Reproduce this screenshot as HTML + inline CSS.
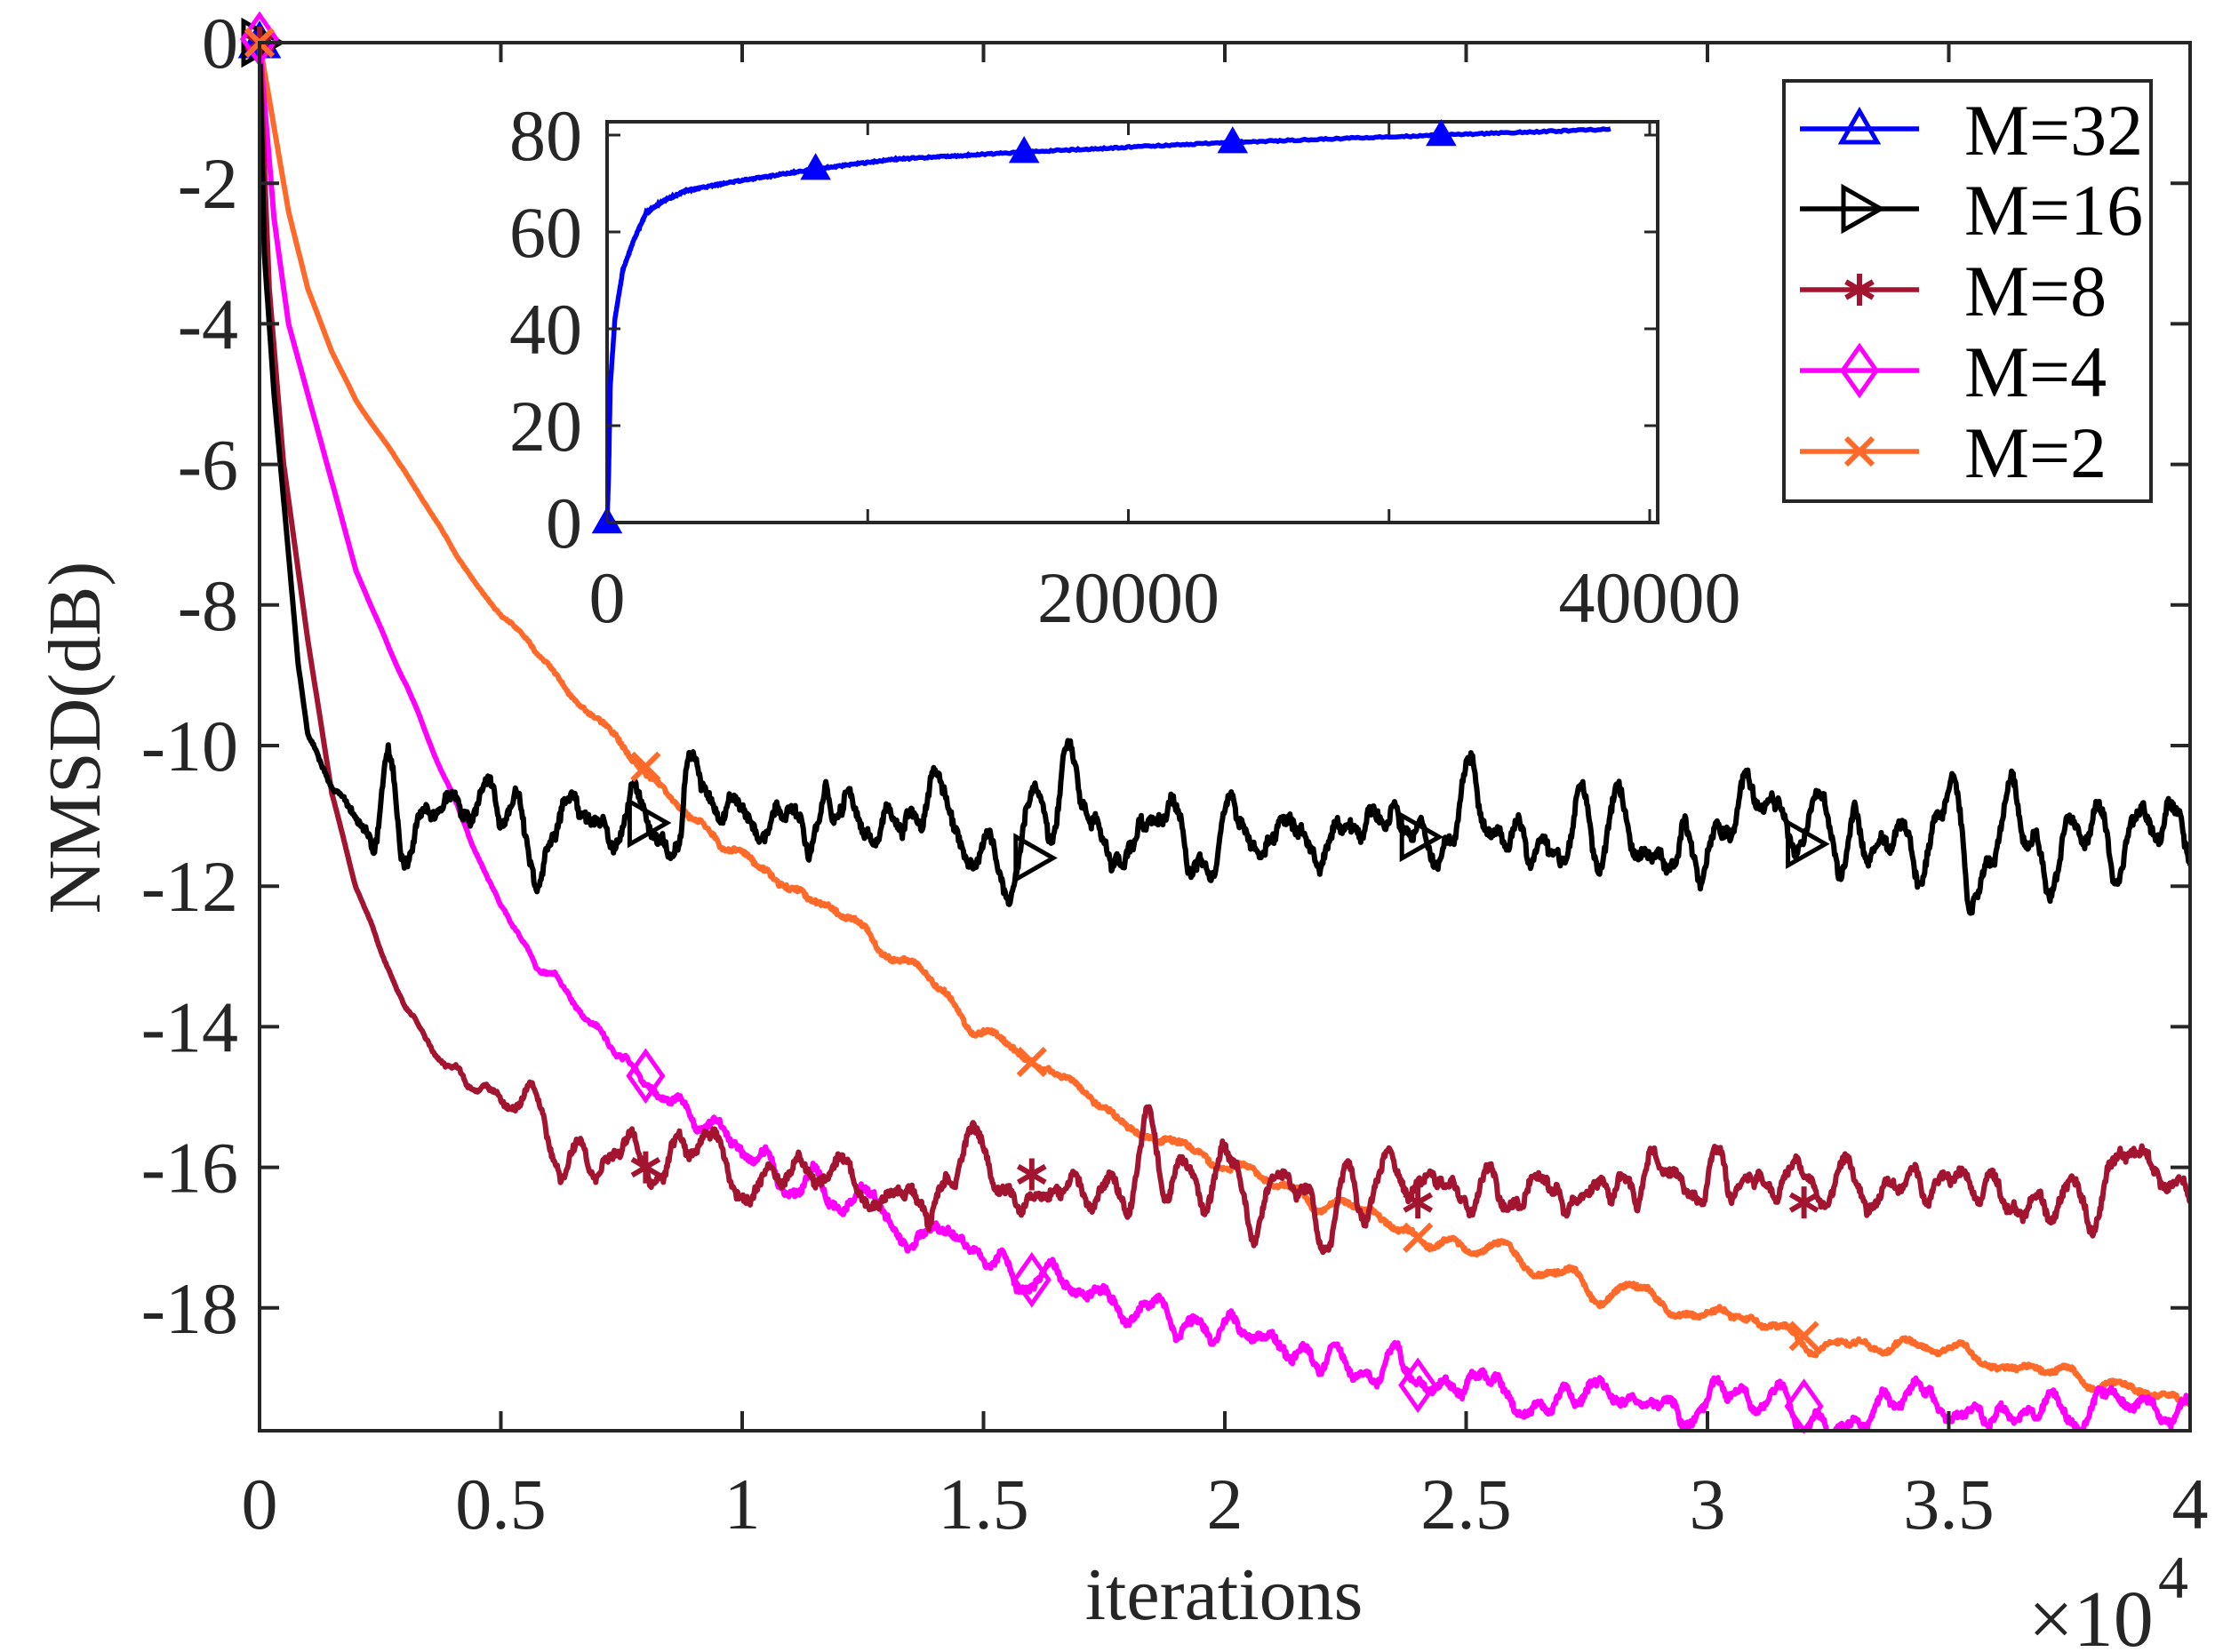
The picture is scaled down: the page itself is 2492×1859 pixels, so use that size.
<!DOCTYPE html>
<html><head><meta charset="utf-8">
<style>
html,body{margin:0;padding:0;background:#fff;}
svg{display:block;}
text{font-family:"Liberation Serif",serif;fill:#262626;}
</style></head>
<body>
<svg id="s" width="2492" height="1859" viewBox="0 0 2492 1859" xmlns="http://www.w3.org/2000/svg">
<defs>
<clipPath id="cp"><rect x="292" y="40" width="2172" height="1570"/></clipPath>
<clipPath id="cpi"><rect x="683" y="137" width="1182" height="451"/></clipPath>
</defs>
<g id="main"></g>
</svg>
<script>
(function(){
var NS="http://www.w3.org/2000/svg";
var root=document.getElementById("main");
function el(t,a,p){var e=document.createElementNS(NS,t);for(var k in a)e.setAttribute(k,a[k]);(p||root).appendChild(e);return e;}
var L=292,R=2464,T=48,B=1610;
function fx(x){return L+x/4*(R-L);}
function fy(y){return T+(-y)*79.1;}
var seed=987654;function rnd(){seed=(seed*16807)%2147483647;return seed/2147483647;}
function gauss(){return (rnd()+rnd()+rnd()+rnd()-2)*1.7;}
function interp(pts,x){for(var i=1;i<pts.length;i++){if(x<=pts[i][0]){var a=pts[i-1],b=pts[i];var t=(x-a[0])/(b[0]-a[0]);return a[1]+t*(b[1]-a[1]);}}return pts[pts.length-1][1];}
var N=2400;
function noiseArr(amp,win,jit){var w=[];for(var i=0;i<N+2*win;i++)w.push(gauss());
 var s=[];for(var i=0;i<N+win;i++){var a=0;for(var j=0;j<win;j++)a+=w[i+j];s.push(a);}
 var s2=[];var w2=Math.max(1,Math.round(win/2));for(var i=0;i<=N;i++){var a=0;for(var j=0;j<w2;j++)a+=s[i+j];s2.push(a);}
 var m=0,v=0;for(var i=0;i<=N;i++)m+=s2[i];m/=N+1;for(var i=0;i<=N;i++)v+=(s2[i]-m)*(s2[i]-m);v=Math.sqrt(v/(N+1));
 var out=[];for(var i=0;i<=N;i++)out.push((s2[i]-m)/v*amp+(rnd()-0.5)*jit);return out;}
function curve(pts,nz,ramp,color){var d="";for(var i=0;i<=N;i++){var xx=4*i/N;var y=interp(pts,xx);var r=Math.min(1,Math.pow(xx/ramp,2));y+=nz[i]*r;d+=(i?"L":"M")+fx(xx).toFixed(1)+","+fy(y).toFixed(1);}
 el("path",{d:d,fill:"none",stroke:color,"stroke-width":6,"stroke-linejoin":"round","clip-path":"url(#cp)"});}
var orange="#FF6929",mag="#FF00FF",dred="#A2142F",blk="#000000",blue="#0000FF";
var pO=[[0,0],[0.03,-1.2],[0.06,-2.4],[0.1,-3.5],[0.15,-4.4],[0.2,-5.1],[0.3,-6.1],[0.4,-7.2],[0.5,-8.1],[0.65,-9.2],[0.8,-10.3],[1.0,-11.5],[1.2,-12.4],[1.4,-13.5],[1.6,-14.5],[1.8,-15.3],[2.0,-15.9],[2.2,-16.5],[2.4,-17.0],[2.8,-17.8],[3.2,-18.4],[3.6,-18.8],[4.0,-19.35]];
var pM=[[0,0],[0.03,-2.5],[0.06,-4.0],[0.1,-5.0],[0.2,-7.5],[0.3,-9.1],[0.4,-10.7],[0.5,-12.3],[0.6,-13.3],[0.8,-14.7],[1.0,-15.8],[1.2,-16.3],[1.4,-17.2],[1.6,-17.6],[2.0,-18.4],[2.4,-19.05],[2.8,-19.4],[3.2,-19.4],[4.0,-19.45]];
var pD=[[0,0],[0.02,-3.5],[0.05,-6],[0.1,-8.5],[0.15,-10.7],[0.2,-12.0],[0.25,-12.9],[0.3,-13.6],[0.4,-14.7],[0.5,-15.1],[0.6,-15.5],[0.8,-16.0],[1.0,-16.2],[4.0,-16.3]];
var pK=[[0,0],[0.01,-3],[0.03,-5],[0.05,-6.5],[0.08,-8.8],[0.1,-9.8],[0.15,-10.7],[0.2,-11.0],[4.0,-11.35]];
curve(pO,noiseArr(0.1,30,0.06),0.8,orange);
curve(pM,noiseArr(0.18,22,0.1),1.0,mag);
curve(pD,noiseArr(0.3,22,0.12),0.7,dred);
curve(pK,noiseArr(0.38,20,0.15),0.25,blk);
function tri(x,y,c,fill,sz){sz=sz||22;el("path",{d:"M"+x+","+(y-sz)+"L"+(x+sz)+","+(y+sz*0.75)+"L"+(x-sz)+","+(y+sz*0.75)+"Z",fill:fill?c:"none",stroke:c,"stroke-width":5});}
function rtri(x,y,c){var s=24;el("path",{d:"M"+(x-s*0.75)+","+(y-s)+"L"+(x+s)+","+y+"L"+(x-s*0.75)+","+(y+s)+"Z",fill:"none",stroke:c,"stroke-width":5});}
function star(x,y,c){var s=18;var d="M"+x+","+(y-s)+"L"+x+","+(y+s)+"M"+(x-s*0.85)+","+(y-s*0.5)+"L"+(x+s*0.85)+","+(y+s*0.5)+"M"+(x-s*0.85)+","+(y+s*0.5)+"L"+(x+s*0.85)+","+(y-s*0.5);el("path",{d:d,stroke:c,"stroke-width":6});}
function dia(x,y,c){var s=27;el("path",{d:"M"+x+","+(y-s)+"L"+(x+19)+","+y+"L"+x+","+(y+s)+"L"+(x-19)+","+y+"Z",fill:"none",stroke:c,"stroke-width":5});}
function cross(x,y,c){var s=15;el("path",{d:"M"+(x-s)+","+(y-s)+"L"+(x+s)+","+(y+s)+"M"+(x-s)+","+(y+s)+"L"+(x+s)+","+(y-s),stroke:c,"stroke-width":6});}
var mx=[0.8,1.6,2.4,3.2];
var ky=[-11.1,-11.6,-11.3,-11.4],dy=[-16,-16.1,-16.5,-16.5],my=[-14.7,-17.6,-19.1,-19.4],oy=[-10.3,-14.5,-17.0,-18.4];
tri(fx(0),fy(0),blue,true,20);
rtri(fx(0),fy(0),blk);star(fx(0),fy(0),dred);dia(fx(0),fy(0)-4,mag);cross(fx(0),fy(0),orange);
for(var i=0;i<4;i++){rtri(fx(mx[i]),fy(ky[i]),blk);star(fx(mx[i]),fy(dy[i]),dred);dia(fx(mx[i]),fy(my[i]),mag);cross(fx(mx[i]),fy(oy[i]),orange);}
el("rect",{x:L,y:T,width:R-L,height:B-T,fill:"none",stroke:"#262626","stroke-width":4});
for(var i=0;i<=8;i++){var x=fx(i*0.5);el("line",{x1:x,y1:B,x2:x,y2:B-22,stroke:"#262626","stroke-width":4});el("line",{x1:x,y1:T,x2:x,y2:T+22,stroke:"#262626","stroke-width":4});
 var t=el("text",{x:x,y:1720,"font-size":82,"text-anchor":"middle"});t.textContent=(i*0.5).toString();}
for(var v=0;v>=-18;v-=2){var y=fy(v);el("line",{x1:L,y1:y,x2:L+22,y2:y,stroke:"#262626","stroke-width":4});el("line",{x1:R,y1:y,x2:R-22,y2:y,stroke:"#262626","stroke-width":4});
 var t=el("text",{x:268,y:y+28,"font-size":82,"text-anchor":"end"});t.textContent=v==0?"0":("-"+(-v));}
var t=el("text",{x:1377,y:1822,"font-size":84,"text-anchor":"middle"});t.textContent="iterations";
t=el("text",{x:0,y:0,"font-size":84,"text-anchor":"middle",transform:"translate(112,830) rotate(-90)"});t.textContent="NMSD(dB)";
t=el("text",{x:2282,y:1852,"font-size":90});t.textContent="\u00d710";
t=el("text",{x:2428,y:1798,"font-size":68});t.textContent="4";
var IL=683,IR=1865,IT=137,IB=588;
function ix(x){return IL+x/40307*(IR-IL);}
function iy(y){return IB-y/80*(IB-152);}
el("rect",{x:IL,y:IT,width:IR-IL,height:IB-IT,fill:"#fff",stroke:"#262626","stroke-width":4});
var ip=[[0,0],[60,10],[120,28],[300,42],[600,52],[1000,58],[1500,64],[2200,66.5],[3000,68.5],[5000,70.5],[8000,73],[11000,75],[16000,76.5],[24000,78.5],[32000,80],[38500,81.2]];
var d="";
for(var i=0;i<=800;i++){var x=38500*Math.pow(i/800,2);var y=interp(ip,x)+(x>500?(rnd()-0.5)*0.3:0);d+=(i?"L":"M")+ix(x).toFixed(1)+","+iy(y).toFixed(1);}
el("path",{d:d,fill:"none",stroke:blue,"stroke-width":5.5,"clip-path":"url(#cpi)"});
[0,8000,16000,24000,32000].forEach(function(x){tri(ix(x),iy(interp(ip,x)),blue,true,13);});
for(var v=0;v<=80;v+=20){var y=iy(v);el("line",{x1:IL,y1:y,x2:IL+15,y2:y,stroke:"#262626","stroke-width":3});el("line",{x1:IR,y1:y,x2:IR-15,y2:y,stroke:"#262626","stroke-width":3});
 t=el("text",{x:655,y:y+28,"font-size":82,"text-anchor":"end"});t.textContent=v;}
[0,10000,20000,30000,40000].forEach(function(x){var X=ix(x);el("line",{x1:X,y1:IB,x2:X,y2:IB-15,stroke:"#262626","stroke-width":3});el("line",{x1:X,y1:IT,x2:X,y2:IT+15,stroke:"#262626","stroke-width":3});
 if(x%20000==0){t=el("text",{x:X,y:700,"font-size":82,"text-anchor":"middle"});t.textContent=x;}});
el("rect",{x:2007,y:91,width:413,height:473,fill:"#fff",stroke:"#262626","stroke-width":4});
var labs=["M=32","M=16","M=8","M=4","M=2"],cols=[blue,blk,dred,mag,orange],ys=[145,235,326,417,508];
for(var i=0;i<5;i++){var y=ys[i];el("line",{x1:2025,y1:y,x2:2159,y2:y,stroke:cols[i],"stroke-width":5.5});
 var xm=2092;if(i==0)tri(xm,y,blue,false,20);if(i==1)rtri(xm,y,blk);if(i==2)star(xm,y,dred);if(i==3)dia(xm,y,mag);if(i==4)cross(xm,y,orange);
 t=el("text",{x:2210,y:y+29,"font-size":82});t.setAttribute("style","fill:#000");t.textContent=labs[i];}
})();
</script>
</body></html>
